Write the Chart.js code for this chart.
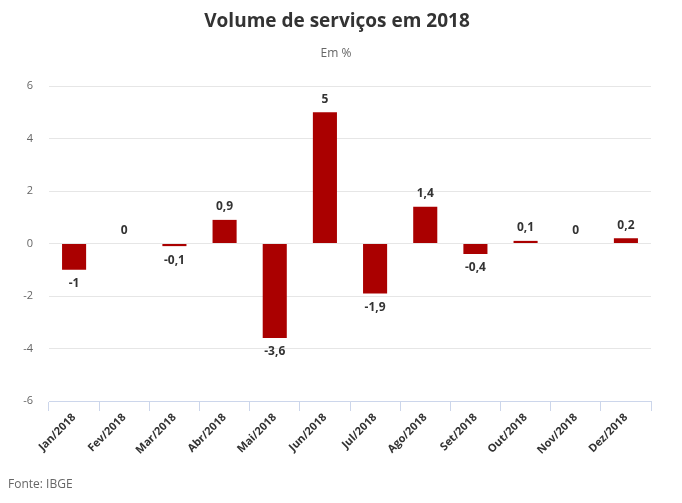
<!DOCTYPE html>
<html>
<head>
<meta charset="utf-8">
<script src="https://cdn.jsdelivr.net/npm/chart.js@4/dist/chart.umd.min.js"></script>
<style>
    html, body { margin: 0; padding: 0; background: #fff; }
    #wrap { position: relative; width: 682px; height: 503px; font-family: "Open Sans", sans-serif; }
    #title { position: absolute; left: 0; width: 674px; top: 7px; text-align: center; font-size: 19px; font-weight: bold; color: #333; }
    #subtitle { position: absolute; left: 0; width: 672px; top: 44px; text-align: center; font-size: 12px; color: #666; }
    #source { position: absolute; left: 8px; top: 475px; font-size: 12px; color: #666; }
    canvas { position: absolute; left: 0; top: 0; }
</style>
</head>
<body>
<div id="wrap">
    <canvas id="chart" width="682" height="503"></canvas>
    <div id="title">Volume de serviços em 2018</div>
    <div id="subtitle">Em %</div>
    <div id="source">Fonte: IBGE</div>
</div>
<script>
// Data
const months = ['Jan/2018', 'Fev/2018', 'Mar/2018', 'Abr/2018', 'Mai/2018', 'Jun/2018',
    'Jul/2018', 'Ago/2018', 'Set/2018', 'Out/2018', 'Nov/2018', 'Dez/2018'];
const volume = [-1, 0, -0.1, 0.9, -3.6, 5, -1.9, 1.4, -0.4, 0.1, 0, 0.2];
const yTicks = [-6, -4, -2, 0, 2, 4, 6];

const fmt = v => String(v).replace('.', ',');

// Value labels above / below each bar
const barLabels = {
    id: 'barLabels',
    afterDatasetsDraw(chart) {
        const ctx = chart.ctx;
        const meta = chart.getDatasetMeta(0);
        ctx.save();
        ctx.font = 'bold 12px "Open Sans", sans-serif';
        ctx.fillStyle = '#333';
        ctx.textAlign = 'center';
        ctx.textBaseline = 'middle';
        meta.data.forEach((bar, i) => {
            const v = volume[i];
            const y = v >= 0 ? bar.y - 13 : bar.y + 14;
            ctx.fillText(fmt(v), bar.x, y);
        });
        ctx.restore();
    }
};

new Chart(document.getElementById('chart').getContext('2d'), {
    type: 'bar',
    data: {
        labels: months,
        datasets: [{
            data: volume,
            backgroundColor: '#aa0000',
            barPercentage: 0.48,
            categoryPercentage: 1
        }]
    },
    options: {
        responsive: false,
        animation: false,
        events: [],
        layout: { padding: { top: 86, right: 31, bottom: 0, left: 0 } },
        plugins: {
            legend: { display: false },
            tooltip: { enabled: false }
        },
        scales: {
            x: {
                offset: true,
                border: { display: true, color: '#ccd6eb' },
                grid: { offset: true, drawOnChartArea: false, drawTicks: true, tickLength: 10, color: '#ccd6eb' },
                ticks: {
                    autoSkip: false,
                    maxRotation: 45,
                    minRotation: 45,
                    padding: 0,
                    color: '#333',
                    font: { family: '"Open Sans", sans-serif', size: 11, weight: 'bold' }
                },
                afterFit(scale) { scale.height = 102; }
            },
            y: {
                min: -6,
                max: 6,
                border: { display: false },
                grid: { color: '#e6e6e6', drawTicks: false },
                afterBuildTicks(scale) { scale.ticks = yTicks.map(v => ({ value: v })); },
                ticks: {
                    padding: 16,
                    color: '#666',
                    font: { family: '"Open Sans", sans-serif', size: 11 },
                    callback: v => fmt(v)
                },
                afterFit(scale) { scale.width = 49; }
            }
        }
    },
    plugins: [barLabels]
});
</script>
</body>
</html>
